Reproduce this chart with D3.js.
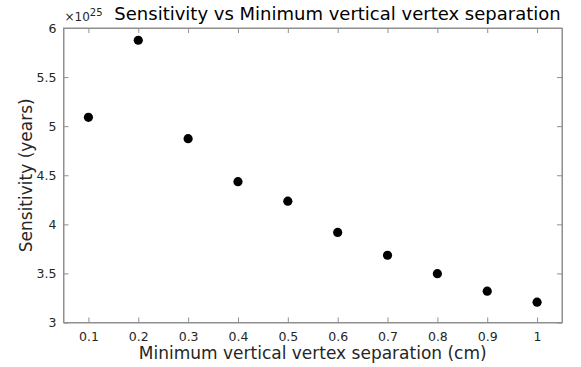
<!DOCTYPE html>
<html>
<head>
<meta charset="utf-8">
<script src="https://cdn.jsdelivr.net/npm/d3@7"></script>
<style>
  html, body { margin: 0; padding: 0; background: #fff; }
  svg { display: block; font-family: "DejaVu Sans", sans-serif; }
</style>
</head>
<body>
<svg id="chart" width="581" height="367"></svg>
<script>
// Minimum vertical vertex separation (cm)
const separations = [0.1, 0.2, 0.3, 0.4, 0.5, 0.6, 0.7, 0.8, 0.9, 1.0];
// Sensitivity (years), in units of 1e25
const sensitivity = [5.09, 5.875, 4.873, 4.435, 4.236, 3.918, 3.685, 3.497, 3.319, 3.207];
const xTicks = [0.1, 0.2, 0.3, 0.4, 0.5, 0.6, 0.7, 0.8, 0.9, 1];
const yTicks = [3, 3.5, 4, 4.5, 5, 5.5, 6];
const exponent = "25";

const svg = d3.select("#chart");
const margin = { left: 63.5, right: 19, top: 28, bottom: 44.5 };
const W = 581, H = 367;
const x0 = margin.left, x1 = W - margin.right;
const y0 = H - margin.bottom, y1 = margin.top;

const x = d3.scaleLinear().domain([0.05, 1.05]).range([x0, x1]);
const y = d3.scaleLinear().domain([3, 6]).range([y0, y1]);

const axisColor = "#8f8f8f";
const textColor = "#262626";
const fmt = d => String(d);

// box
svg.append("rect")
  .attr("x", x0).attr("y", y1)
  .attr("width", x1 - x0).attr("height", y0 - y1)
  .attr("fill", "none").attr("stroke", axisColor).attr("stroke-width", 1);

// bottom axis
const gx = svg.append("g").attr("transform", `translate(0,${y0})`)
  .call(d3.axisBottom(x).tickValues(xTicks).tickFormat(fmt).tickSizeInner(-5).tickSizeOuter(0).tickPadding(10));
// top ticks
const gxt = svg.append("g").attr("transform", `translate(0,${y1})`)
  .call(d3.axisTop(x).tickValues(xTicks).tickFormat("").tickSizeInner(-5).tickSizeOuter(0));
// left axis
const gy = svg.append("g").attr("transform", `translate(${x0},0)`)
  .call(d3.axisLeft(y).tickValues(yTicks).tickFormat(fmt).tickSizeInner(-5).tickSizeOuter(0).tickPadding(7));
// right ticks
const gyr = svg.append("g").attr("transform", `translate(${x1},0)`)
  .call(d3.axisRight(y).tickValues(yTicks).tickFormat("").tickSizeInner(-5).tickSizeOuter(0));

[gx, gxt, gy, gyr].forEach(g => {
  g.select(".domain").attr("stroke", axisColor);
  g.selectAll(".tick line").attr("stroke", axisColor);
  g.selectAll(".tick text").attr("fill", textColor).attr("font-size", 12.5)
    .attr("font-family", "DejaVu Sans, sans-serif");
});

// exponent multiplier
const ex = svg.append("text")
  .attr("x", x0 + 1).attr("y", 21)
  .attr("fill", textColor).attr("font-size", 12);
ex.append("tspan").text("\u00d710");
ex.append("tspan").attr("dy", -5).attr("font-size", 10).text(exponent);

// points
svg.append("g").selectAll("circle")
  .data(separations.map((s, i) => ({ s, v: sensitivity[i] })))
  .join("circle")
  .attr("cx", d => x(d.s))
  .attr("cy", d => y(d.v))
  .attr("r", 4.6)
  .attr("fill", "#000");

// title
svg.append("text")
  .attr("x", 337.5).attr("y", 20)
  .attr("text-anchor", "middle")
  .attr("fill", "#000").attr("font-size", 18)
  .text("Sensitivity vs Minimum vertical vertex separation");

// axis labels
svg.append("text")
  .attr("x", (x0 + x1) / 2).attr("y", 359)
  .attr("text-anchor", "middle")
  .attr("fill", textColor).attr("font-size", 17)
  .text("Minimum vertical vertex separation (cm)");

svg.append("text")
  .attr("transform", `translate(32,${(y0 + y1) / 2}) rotate(-90)`)
  .attr("text-anchor", "middle")
  .attr("fill", textColor).attr("font-size", 17)
  .text("Sensitivity (years)");
</script>
</body>
</html>
